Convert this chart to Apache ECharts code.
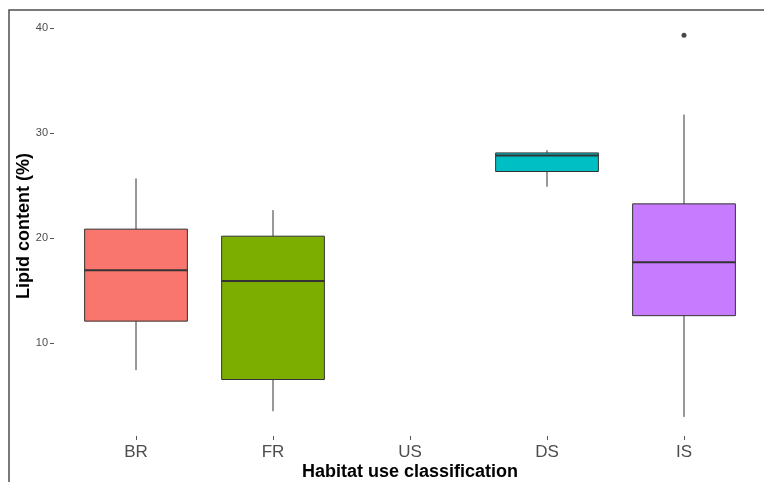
<!DOCTYPE html>
<html>
<head>
<meta charset="utf-8">
<script src="https://cdn.jsdelivr.net/npm/echarts@6/dist/echarts.min.js"></script>
<style>
  html, body { margin: 0; padding: 0; background: #fff; }
  #chart { width: 764px; height: 482px; }
</style>
</head>
<body>
<div id="chart"></div>
<script>
// Habitat use classes and lipid content summaries (%)
var categories = ['BR', 'FR', 'US', 'DS', 'IS'];
var lowerWhisker = [7.43, 3.52, null, 24.9, 2.98];
var lowerQuartile = [12.1, 6.54, null, 26.35, 12.62];
var medianValue = [16.95, 15.93, null, 27.88, 17.71];
var upperQuartile = [20.86, 20.19, null, 28.12, 23.27];
var upperWhisker = [25.69, 22.67, null, 28.38, 31.77];
var outlierPoints = [['IS', 39.33]];
var yTicks = [10, 20, 30, 40];
var boxColors = ['#F8766D', '#7CAE00', '#B0B0B0', '#00BFC4', '#C77CFF'];

var boxData = [];
categories.forEach(function (c, i) {
  if (medianValue[i] == null) return;
  boxData.push([i, lowerWhisker[i], lowerQuartile[i], medianValue[i], upperQuartile[i], upperWhisker[i]]);
});

function renderBox(params, api) {
  var idx = api.value(0);
  var band = api.size([1, 0])[0];
  var half = band * 0.75 / 2;
  var pMin = api.coord([idx, api.value(1)]);
  var pQ1 = api.coord([idx, api.value(2)]);
  var pMed = api.coord([idx, api.value(3)]);
  var pQ3 = api.coord([idx, api.value(4)]);
  var pMax = api.coord([idx, api.value(5)]);
  var x = pMed[0];
  var lineStyle = { stroke: '#333333', lineWidth: 1 };
  return {
    type: 'group',
    children: [
      { type: 'line', shape: { x1: x, y1: pQ3[1], x2: x, y2: pMax[1] }, style: lineStyle },
      { type: 'line', shape: { x1: x, y1: pQ1[1], x2: x, y2: pMin[1] }, style: lineStyle },
      {
        type: 'rect',
        shape: { x: x - half, y: pQ3[1], width: half * 2, height: pQ1[1] - pQ3[1] },
        style: { fill: boxColors[idx], stroke: '#333333', lineWidth: 1 }
      },
      { type: 'line', shape: { x1: x - half, y1: pMed[1], x2: x + half, y2: pMed[1] }, style: { stroke: '#333333', lineWidth: 2 } }
    ]
  };
}

var chart = echarts.init(document.getElementById('chart'), null, { renderer: 'canvas' });
var fontFamily = '"Liberation Sans", Arial, sans-serif';

chart.setOption({
  animation: false,
  backgroundColor: '#ffffff',
  textStyle: { fontFamily: fontFamily },
  grid: { left: 67.5, right: 11.5, top: 16, height: 420, outerBoundsMode: 'none', containLabel: false },
  graphic: [{
    type: 'rect',
    shape: { x: 9, y: 10, width: 800, height: 520 },
    style: { fill: 'none', stroke: '#4d4d4d', lineWidth: 1.5 },
    silent: true
  }],
  xAxis: {
    type: 'category',
    data: categories,
    boundaryGap: true,
    axisLine: { show: false },
    axisTick: { show: true, alignWithLabel: true, length: 4, lineStyle: { color: '#555555', width: 1 } },
    axisLabel: { color: '#4d4d4d', fontSize: 17, margin: 8, fontFamily: fontFamily },
    splitLine: { show: false },
    name: 'Habitat use classification',
    nameLocation: 'middle',
    nameGap: 27,
    nameMoveOverlap: false,
    nameTextStyle: { color: '#000000', fontSize: 18, fontWeight: 'bold', fontFamily: fontFamily }
  },
  yAxis: {
    type: 'value',
    min: 1.16,
    max: 41.16,
    offset: 13.5,
    axisLine: { show: false },
    axisTick: { show: true, length: 4, customValues: yTicks, lineStyle: { color: '#555555', width: 1 } },
    axisLabel: { color: '#4d4d4d', fontSize: 11, margin: 6, customValues: yTicks, fontFamily: fontFamily },
    splitLine: { show: false },
    name: 'Lipid content (%)',
    nameLocation: 'middle',
    nameGap: 21,
    nameMoveOverlap: false,
    nameTextStyle: { color: '#000000', fontSize: 18, fontWeight: 'bold', fontFamily: fontFamily }
  },
  series: [
    {
      type: 'custom',
      renderItem: renderBox,
      data: boxData,
      encode: { x: 0, y: [1, 2, 3, 4, 5] },
      silent: true
    },
    {
      type: 'scatter',
      data: outlierPoints,
      symbol: 'circle',
      symbolSize: 5,
      itemStyle: { color: '#1a1a1a' },
      silent: true
    }
  ]
});
</script>
</body>
</html>
